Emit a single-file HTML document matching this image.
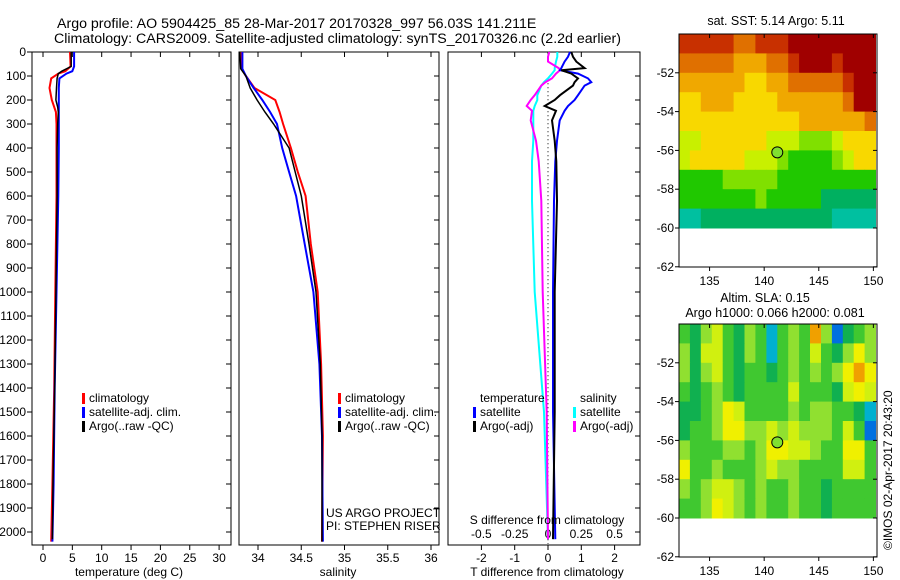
<!DOCTYPE html>
<html><head><meta charset="utf-8"><style>
body{margin:0;background:#fff;}
svg{display:block;font-family:"Liberation Sans",sans-serif;}
text{font-size:12px;fill:#000;}
.lg{font-size:12px;}
.ti{font-size:14.2px;}
.mt{font-size:12.5px;}
</style></head><body>
<svg id="fig" width="900" height="580" viewBox="0 0 900 580">
<text class="ti" x="57" y="28">Argo profile: AO 5904425_85 28-Mar-2017 20170328_997 56.03S 141.211E</text>
<text class="ti" x="54" y="43">Climatology: CARS2009. Satellite-adjusted climatology: synTS_20170326.nc (2.2d earlier)</text>
<g id="p1"></g>
<g id="p2"></g>
<g id="p3"></g>
<g id="m1"></g>
<g id="m2"></g>
<text x="129" y="576" text-anchor="middle">temperature (deg C)</text>
<text x="338" y="576" text-anchor="middle">salinity</text>
<text x="547" y="576" text-anchor="middle">T difference from climatology</text>
<text x="547" y="524" text-anchor="middle">S difference from climatology</text>
<text x="326" y="517">US ARGO PROJECT</text>
<text x="326" y="530">PI: STEPHEN RISER</text>
<text class="mt" x="776" y="25" text-anchor="middle">sat. SST: 5.14 Argo: 5.11</text>
<text class="mt" x="765" y="302" text-anchor="middle">Altim. SLA: 0.15</text>
<text class="mt" x="775" y="317" text-anchor="middle">Argo h1000: 0.066 h2000: 0.081</text>
<text transform="translate(892,550) rotate(-90)">©IMOS 02-Apr-2017 20:43:20</text>
</svg>
<script>
// ---- data ----
const tDepth = [0,60,80,90,110,150,200,230,250,300,400,600,1000,1400,1800,2030];
const tArgo  = [4.8,4.8,3.2,2.6,2.4,2.3,2.2,2.5,2.6,2.5,2.4,2.4,2.2,2.0,1.7,1.6];
const cDepth = [0,60,80,90,110,150,200,250,300,400,600,1000,1400,1800,2040];
const tClim  = [4.6,4.7,3.8,2.6,1.4,1.1,1.5,2.2,2.3,2.3,2.3,2.1,1.9,1.6,1.4];
const tSat   = [5.3,5.3,5.0,4.0,2.8,2.7,2.7,2.7,2.7,2.7,2.6,2.3,2.0,1.8,1.6];
const sDepth = [0,70,100,150,200,250,300,400,500,600,800,1000,1300,1600,2040];
const sArgo  = [33.79,33.80,33.86,33.91,33.99,34.08,34.18,34.36,34.43,34.50,34.59,34.67,34.72,34.74,34.74];
const sClim  = [33.81,33.81,33.86,33.96,34.20,34.25,34.29,34.38,34.46,34.55,34.61,34.69,34.73,34.75,34.74];
const sSat   = [33.82,33.82,33.86,33.95,34.05,34.14,34.22,34.28,34.36,34.44,34.54,34.64,34.71,34.74,34.75];
const dDepth = [0,20,40,67,76,90,110,126,140,180,200,225,245,285,370,455,620,1000,1500,2030];
const dTsat  = [0.66,0.6,0.5,0.4,0.36,0.9,1.2,1.3,1.1,0.9,0.8,0.6,0.5,0.35,0.27,0.22,0.18,0.15,0.15,0.22];
const dTargo = [0.7,0.75,0.85,1.1,0.4,0.7,0.9,0.8,0.75,0.36,0.2,-0.1,0.24,0.12,0.2,0.25,0.27,0.2,0.2,0.15];
const dSsat  = [0.07,0.07,0.06,0.05,0.05,0.03,0.0,-0.03,-0.05,-0.08,-0.08,-0.1,-0.11,-0.11,-0.11,-0.12,-0.12,-0.1,-0.03,0.0];
const dSargo = [0.01,0.0,0.0,0.08,0.09,0.06,0.03,-0.02,-0.05,-0.1,-0.13,-0.16,-0.12,-0.13,-0.09,-0.07,-0.05,-0.04,-0.01,0.0];
const depthTicks = [0,100,200,300,400,500,600,700,800,900,1000,1100,1200,1300,1400,1500,1600,1700,1800,1900,2000];
const tTicks = [0,5,10,15,20,25,30];
const sTicks = [34,34.5,35,35.5,36];
const sTickLabels = ["34","34.5","35","35.5","36"];
const dTTicks = [-2,-1,0,1,2];
const dSTicks = [-0.5,-0.25,0,0.25,0.5];
const dSTickLabels = ["-0.5","-0.25","0","0.25","0.5"];
const latTicks = [-52,-54,-56,-58,-60,-62];
const lonTicks = [135,140,145,150];
const argoLon = 141.2, argoLat = -56.1;
const sstGrid = [
[9,9,9,9,9,8,8,9,9,9,10,10,10,10,10,10,10,10],
[8,8,8,8,8,7,7,7,8,8,9,10,10,10,9,10,10,10],
[7,7,7,7,7,7,6,6,7,7,8,8,8,8,8,9,10,10],
[6,6,7,7,7,6,6,6,6,7,7,7,7,7,7,8,10,10],
[6,6,6,6,6,6,6,6,6,6,6,7,7,7,7,7,7,8],
[5,5,6,6,6,6,6,6,5,5,5,4,4,4,5,6,6,6],
[5,6,6,6,6,6,5,5,5,4,3,3,3,3,4,5,6,6],
[3,3,3,3,4,4,4,4,4,3,3,3,3,3,3,3,3,3],
[3,3,3,3,3,3,3,4,3,3,3,3,3,2,2,2,2,2],
[1,1,2,2,2,2,2,2,2,2,2,2,2,2,1,1,1,1]];
const slaGrid = [
[3,2,4,5,3,2,4,3,1,3,4,3,7,4,0,2,3,4],
[4,2,5,5,3,2,4,3,1,3,4,3,5,3,2,4,6,4],
[4,2,4,5,3,2,3,3,2,3,4,3,4,3,4,6,7,6],
[3,2,3,4,3,2,3,3,3,3,5,3,3,3,2,5,6,5],
[2,2,3,4,6,5,3,3,3,3,4,3,4,4,3,3,2,1],
[2,3,3,4,6,6,4,4,5,4,5,4,4,4,3,5,3,0],
[4,3,3,3,4,4,3,4,6,6,5,5,4,3,3,6,6,3],
[6,3,3,4,3,3,3,4,5,4,4,3,3,3,3,5,5,3],
[4,3,4,5,5,4,3,4,3,3,4,3,3,2,3,3,3,3],
[3,3,4,6,5,4,3,4,3,3,4,3,3,2,3,3,3,3]];
const sstColors = ["#00d0d0","#00c0a0","#00b060","#20c800","#80e000","#c8f000","#f8d800","#f0a800","#e07000","#c83000","#a00000"];
const slaColors = ["#0070e0","#00b0d0","#10b050","#40c830","#90e030","#d0f010","#f0f000","#f0a000"];

// ---- helpers ----
const NS="http://www.w3.org/2000/svg";
function mk(parent,tag,attrs){const e=document.createElementNS(NS,tag);for(const k in attrs)e.setAttribute(k,attrs[k]);parent.appendChild(e);return e;}
const Y0=52, YB=545;
const yD = d => Y0 + d*0.24;
const xT = v => 43 + v*5.87;
const xS = v => 258 + (v-34)*86.5;
const xDT = v => 548 + v*33.3;
const xDS = v => 548 + v*133.2;

function panel(g,x0,x1,ticks,fx,labels,leftLabels){
  const fr=mk(g,'rect',{x:x0,y:Y0,width:x1-x0,height:YB-Y0,fill:'none',stroke:'#000','stroke-width':1});
  
  
  depthTicks.forEach(d=>{
    const y=yD(d);
    mk(g,'line',{x1:x1-5,x2:x1,y1:y,y2:y,stroke:'#000'});
    if(leftLabels){
      mk(g,'line',{x1:x0-5,x2:x0,y1:y,y2:y,stroke:'#000'});
      const t=mk(g,'text',{x:x0-6,y:y+4,'text-anchor':'end'});t.textContent=d;
      
      
    }
  });
  ticks.forEach((v,i)=>{
    const x=fx(v);
    mk(g,'line',{x1:x,x2:x,y1:Y0,y2:Y0+5,stroke:'#000'});
    mk(g,'line',{x1:x,x2:x,y1:YB,y2:YB+5,stroke:'#000'});
    const t=mk(g,'text',{x:x,y:YB+17,'text-anchor':'middle'});t.textContent=labels?labels[i]:v;
    
    
  });
}
function line(g,depths,vals,fx,color,w,name){
  const p=depths.map((d,i)=>fx(vals[i]).toFixed(1)+','+yD(d).toFixed(1)).join(' ');
  const e=mk(g,'polyline',{points:p,fill:'none',stroke:color,'stroke-width':w});
  
  
}
function legend(g,x,y,items){
  items.forEach((it,i)=>{
    if(it[0]) mk(g,'rect',{x:x,y:y+i*14-9,width:3,height:11,fill:it[0]});
    const t=mk(g,'text',{x:x+7,y:y+i*14,'class':'lg'});t.textContent=it[1];
    
    
  });
}

// panel 1
const p1=document.getElementById('p1');
panel(p1,32,231,tTicks,xT,null,true);
line(p1,cDepth,tClim,xT,'#f00',2,'temp-climatology-line');
line(p1,cDepth,tSat,xT,'#00f',2,'temp-satellite-line');
line(p1,tDepth,tArgo,xT,'#000',1.5,'temp-argo-line');
legend(p1,82,402,[['#f00','climatology'],['#00f','satellite-adj. clim.'],['#000','Argo(..raw -QC)']]);

// panel 2
const p2=document.getElementById('p2');
panel(p2,239,439,sTicks,xS,sTickLabels,false);
line(p2,sDepth,sClim,xS,'#f00',2,'sal-climatology-line');
line(p2,sDepth,sSat,xS,'#00f',2,'sal-satellite-line');
line(p2,sDepth,sArgo,xS,'#000',1.5,'sal-argo-line');
legend(p2,338,402,[['#f00','climatology'],['#00f','satellite-adj. clim.'],['#000','Argo(..raw -QC)']]);

// panel 3
const p3=document.getElementById('p3');
panel(p3,448,640,dTTicks,xDT,null,false);
dSTicks.forEach((v,i)=>{const t=mk(p3,'text',{x:xDS(v),y:538,'text-anchor':'middle'});t.textContent=dSTickLabels[i];
  
  });
mk(p3,'line',{x1:xDT(0),x2:xDT(0),y1:yD(130),y2:yD(2050),stroke:'#000','stroke-dasharray':'1,3'});
line(p3,dDepth,dSsat,xDS,'#0ff',2,'s-satellite-diff-line');
line(p3,dDepth,dSargo,xDS,'#f0f',2,'s-argo-diff-line');
line(p3,dDepth,dTsat,xDT,'#00f',2,'t-satellite-diff-line');
line(p3,dDepth,dTargo,xDT,'#000',2,'t-argo-diff-line');
legend(p3,473,402,[[null,'temperature'],['#00f','satellite'],['#000','Argo(-adj)']]);
legend(p3,573,402,[[null,'salinity'],['#0ff','satellite'],['#f0f','Argo(-adj)']]);

// maps
function map(id,top,grid,colors){
  const g=document.getElementById(id);
  const L=679,R=877,B=top+233;
  const xl=v=>L+(v-132.2)*10.92;
  const yl=v=>top+(-50-v)*19.4;
  grid.forEach((row,r)=>row.forEach((c,k)=>{
    const cell=mk(g,'rect',{x:xl(132.2+k).toFixed(1),y:yl(-50-r).toFixed(1),width:11.4,height:19.9,fill:colors[c]});
    
    
  }));
  mk(g,'rect',{x:L,y:top,width:R-L,height:B-top,fill:'none',stroke:'#000'});
  latTicks.forEach(v=>{const y=yl(v);mk(g,'line',{x1:L-4,x2:L,y1:y,y2:y,stroke:'#000'});mk(g,'line',{x1:R-4,x2:R,y1:y,y2:y,stroke:'#000'});
    const t=mk(g,'text',{x:L-5,y:y+4,'text-anchor':'end'});t.textContent=v;
    
    });
  lonTicks.forEach(v=>{const x=xl(v);mk(g,'line',{x1:x,x2:x,y1:top,y2:top+4,stroke:'#000'});mk(g,'line',{x1:x,x2:x,y1:B,y2:B+4,stroke:'#000'});
    const t=mk(g,'text',{x:x,y:B+18,'text-anchor':'middle'});t.textContent=v;
    
    });
  const c=mk(g,'circle',{cx:xl(argoLon),cy:yl(argoLat),r:5.5,fill:'#80e030',stroke:'#000'});
  
  
}
map('m1',34,sstGrid,sstColors);
map('m2',324,slaGrid,slaColors);
</script>
</body></html>
